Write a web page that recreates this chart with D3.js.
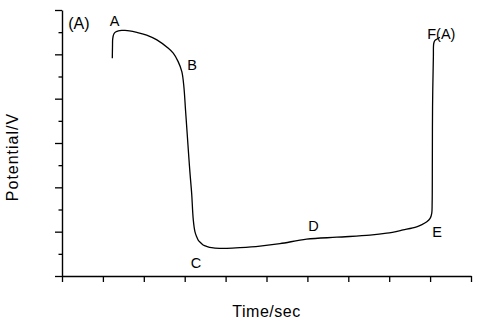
<!DOCTYPE html>
<html>
<head>
<meta charset="utf-8">
<script src="https://cdn.jsdelivr.net/npm/d3@7"></script>
<style>
  html, body { margin: 0; padding: 0; background: #fff; }
  svg { display: block; }
  text { font-family: "Liberation Sans", Arial, sans-serif; fill: #000; }
</style>
</head>
<body>
<svg id="chart" width="477" height="326"></svg>
<script>
// ---- data (arbitrary units, axes carry no numbers) ----
const time = [123, 123.5, 124, 127, 132, 138, 146, 154, 165, 183, 207, 232, 260, 272, 284, 293, 298, 302, 306, 310, 313, 317, 321, 325, 329, 333, 339, 345, 355, 366, 385, 403, 435, 484, 533, 598, 672, 753, 794, 834, 867, 880, 892, 900, 904, 905, 905.5, 906, 908, 909, 912, 916, 924];
const potential = [0.982, 1.04, 1.07, 1.093, 1.102, 1.106, 1.108, 1.108, 1.106, 1.099, 1.087, 1.065, 1.027, 1.005, 0.967, 0.922, 0.854, 0.749, 0.644, 0.538, 0.463, 0.373, 0.253, 0.200, 0.178, 0.162, 0.150, 0.140, 0.133, 0.128, 0.125, 0.125, 0.128, 0.135, 0.146, 0.166, 0.175, 0.184, 0.193, 0.208, 0.222, 0.232, 0.245, 0.260, 0.283, 0.328, 0.523, 0.764, 0.989, 1.050, 1.063, 1.068, 1.077];

const xTicks = [0, 100, 200, 300, 400, 500, 600, 700, 800, 900, 1000];
const yMajorTicks = [0, 0.2, 0.4, 0.6, 0.8, 1.0, 1.2];
const yMinorTicks = [0.1, 0.3, 0.5, 0.7, 0.9, 1.1];

const pointLabels = ["(A)", "A", "B", "C", "D", "E", "F(A)"];
const labelTime   = [15, 117, 306, 315, 602, 905, 893];
const labelPot    = [1.114, 1.128, 0.929, 0.036, 0.203, 0.178, 1.067];

const xTitle = "Time/sec";
const yTitle = "Potential/V";

// ---- layout ----
const svg = d3.select("#chart");
const mLeft = 62, mRight = 471, mTop = 10, mBottom = 276;

const x = d3.scaleLinear().domain([0, 1000]).range([mLeft, mRight]);
const y = d3.scaleLinear().domain([0, 1.2]).range([mBottom, mTop]);

// minor y ticks
svg.append("g")
  .attr("transform", `translate(${mLeft},0)`)
  .call(d3.axisLeft(y).tickValues(yMinorTicks).tickSize(3.5).tickSizeOuter(0).tickFormat(""))
  .call(g => g.select(".domain").remove())
  .call(g => g.selectAll("line").attr("stroke", "#000").attr("stroke-width", 1.3));

// major y ticks + axis line
svg.append("g")
  .attr("transform", `translate(${mLeft},0)`)
  .call(d3.axisLeft(y).tickValues(yMajorTicks).tickSize(7).tickSizeOuter(0).tickFormat(""))
  .call(g => g.select(".domain").attr("stroke", "#000").attr("stroke-width", 1.4))
  .call(g => g.selectAll("line").attr("stroke", "#000").attr("stroke-width", 1.3));

// x axis
svg.append("g")
  .attr("transform", `translate(0,${mBottom})`)
  .call(d3.axisBottom(x).tickValues(xTicks).tickSize(6).tickSizeOuter(0).tickFormat(""))
  .call(g => g.select(".domain").attr("stroke", "#000").attr("stroke-width", 1.4))
  .call(g => g.selectAll("line").attr("stroke", "#000").attr("stroke-width", 1.3));

// curve
const pts = time.map((t, i) => [t, potential[i]]);
svg.append("path")
  .datum(pts)
  .attr("fill", "none")
  .attr("stroke", "#000")
  .attr("stroke-width", 1.3)
  .attr("d", d3.line().x(d => x(d[0])).y(d => y(d[1])).curve(d3.curveCatmullRom.alpha(0.5)));

// point labels
svg.append("g").selectAll("text")
  .data(pointLabels)
  .join("text")
  .attr("x", (d, i) => x(labelTime[i]))
  .attr("y", (d, i) => y(labelPot[i]))
  .attr("font-size", (d, i) => i === 0 ? 16 : 14.5)
  .text(d => d);

// axis titles
svg.append("text")
  .attr("x", 266.5)
  .attr("y", 317)
  .attr("text-anchor", "middle")
  .attr("font-size", 16)
  .attr("letter-spacing", 0.5)
  .text(xTitle);

svg.append("text")
  .attr("transform", "translate(17.5,157) rotate(-90)")
  .attr("text-anchor", "middle")
  .attr("font-size", 16)
  .attr("letter-spacing", 1)
  .text(yTitle);
</script>
</body>
</html>
